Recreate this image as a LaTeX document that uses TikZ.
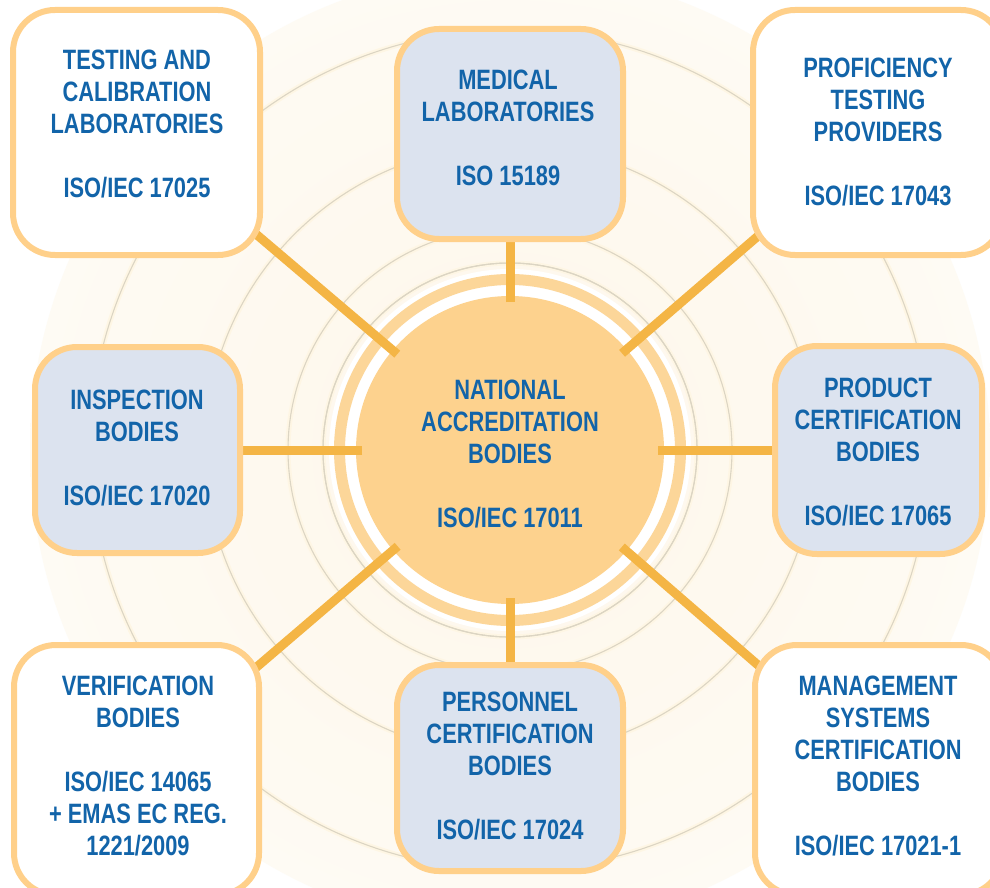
\documentclass[tikz,border=0pt]{standalone}
\usepackage{fontspec}
\newfontfamily\labfont[FakeStretch=0.78]{Liberation Sans}
\usetikzlibrary{calc}
\definecolor{txtblue}{HTML}{1264A9}
\definecolor{boxborder}{HTML}{FFD08A}
\definecolor{boxblue}{HTML}{DCE3EF}
\definecolor{corefill}{HTML}{FDD28E}
\definecolor{ringfill}{HTML}{FCD699}
\definecolor{spokec}{HTML}{F4B545}
\definecolor{thinc}{HTML}{DCD5C3}
\definecolor{haloc}{HTML}{FEF6E4}
\definecolor{glowc}{HTML}{FEF7EA}
\pgfdeclareradialshading{glowshade}{\pgfpoint{0bp}{0bp}}{color(0bp)=(glowc); color(22bp)=(glowc!60!white); color(45bp)=(white); color(50bp)=(white)}
\begin{document}
\begin{tikzpicture}[x=1pt,y=-1pt,
  box/.style={draw=boxborder, line width=6pt, rounded corners=42pt, inner sep=0pt},
  wbox/.style={box, fill=white},
  bbox/.style={box, fill=boxblue},
  lbl/.style={text=txtblue, font=\labfont\bfseries\fontsize{28pt}{32pt}\selectfont, align=center, inner sep=0pt},
  spoke/.style={draw=spokec, line width=9pt},
  thin/.style={draw=thinc, line width=1.1pt},
  halo/.style={draw=haloc, line width=5pt}]
\useasboundingbox (0,0) rectangle (990,888);
\begin{scope}
\clip (0,0) rectangle (990,888);
\fill[white] (0,0) rectangle (990,888);
% background glow and rings
\coordinate (c) at (510,450);
\shade[shading=glowshade] (c) circle[radius=480pt];
\foreach \r in {187,222,305,420} {
  \draw[halo] (c) circle[radius=\r pt];
  \draw[thin] (c) circle[radius=\r pt];
}
\fill[white] (c) circle[radius=181pt];
\draw[thin] (c) circle[radius=187pt];
\draw[draw=ringfill, line width=11pt] (c) circle[radius=170.5pt];
\node[circle, fill=corefill, minimum size=308pt, inner sep=0pt] (nab) at (c) {};
\node[lbl] (nabt) at (510,454) {NATIONAL\\ACCREDITATION\\BODIES\\[32pt]ISO/IEC 17011};
% box positions
\coordinate (ptl) at (136.5,132.5);
\coordinate (ptop) at (510,134);
\coordinate (ptr) at (878,132.5);
\coordinate (pl) at (137.5,450);
\coordinate (pr) at (878.5,450);
\coordinate (pbl) at (136.5,770);
\coordinate (pb) at (510,768);
\coordinate (pbr) at (879,770);
% spokes
\foreach \p in {ptl,ptop,ptr,pl,pr,pbl,pb,pbr} {
  \draw[spoke] ($(c)!148pt!(\p)$) -- (\p);
}
% boxes
\node[wbox, minimum width=247pt, minimum height=245pt] (tl) at (ptl) {};
\node[bbox, minimum width=226pt, minimum height=210pt] (top) at (ptop) {};
\node[wbox, minimum width=250pt, minimum height=245pt] (tr) at (ptr) {};
\node[bbox, minimum width=205pt, minimum height=206pt] (l) at (pl) {};
\node[bbox, minimum width=207pt, minimum height=208pt] (r) at (pr) {};
\node[wbox, minimum width=245pt, minimum height=250pt] (bl) at (pbl) {};
\node[bbox, minimum width=226pt, minimum height=206pt] (b) at (pb) {};
\node[wbox, minimum width=248pt, minimum height=250pt] (br) at (pbr) {};
% texts
\node[lbl] (tlt) at (137,124) {TESTING AND\\CALIBRATION\\LABORATORIES\\[32pt]ISO/IEC 17025};
\node[lbl] (topt) at (508,128) {MEDICAL\\LABORATORIES\\[32pt]ISO 15189};
\node[lbl] (trt) at (878,132) {PROFICIENCY\\TESTING\\PROVIDERS\\[32pt]ISO/IEC 17043};
\node[lbl] (lt) at (137,448) {INSPECTION\\BODIES\\[32pt]ISO/IEC 17020};
\node[lbl] (rt) at (878,452) {PRODUCT\\CERTIFICATION\\BODIES\\[32pt]ISO/IEC 17065};
\node[lbl] (blt) at (138,766) {VERIFICATION\\BODIES\\[32pt]ISO/IEC 14065\\+ EMAS EC REG.\\1221/2009};
\node[lbl] (bt) at (510,766) {PERSONNEL\\CERTIFICATION\\BODIES\\[32pt]ISO/IEC 17024};
\node[lbl] (brt) at (878,766) {MANAGEMENT\\SYSTEMS\\CERTIFICATION\\BODIES\\[32pt]ISO/IEC 17021-1};
\end{scope}
\end{tikzpicture}
\end{document}
